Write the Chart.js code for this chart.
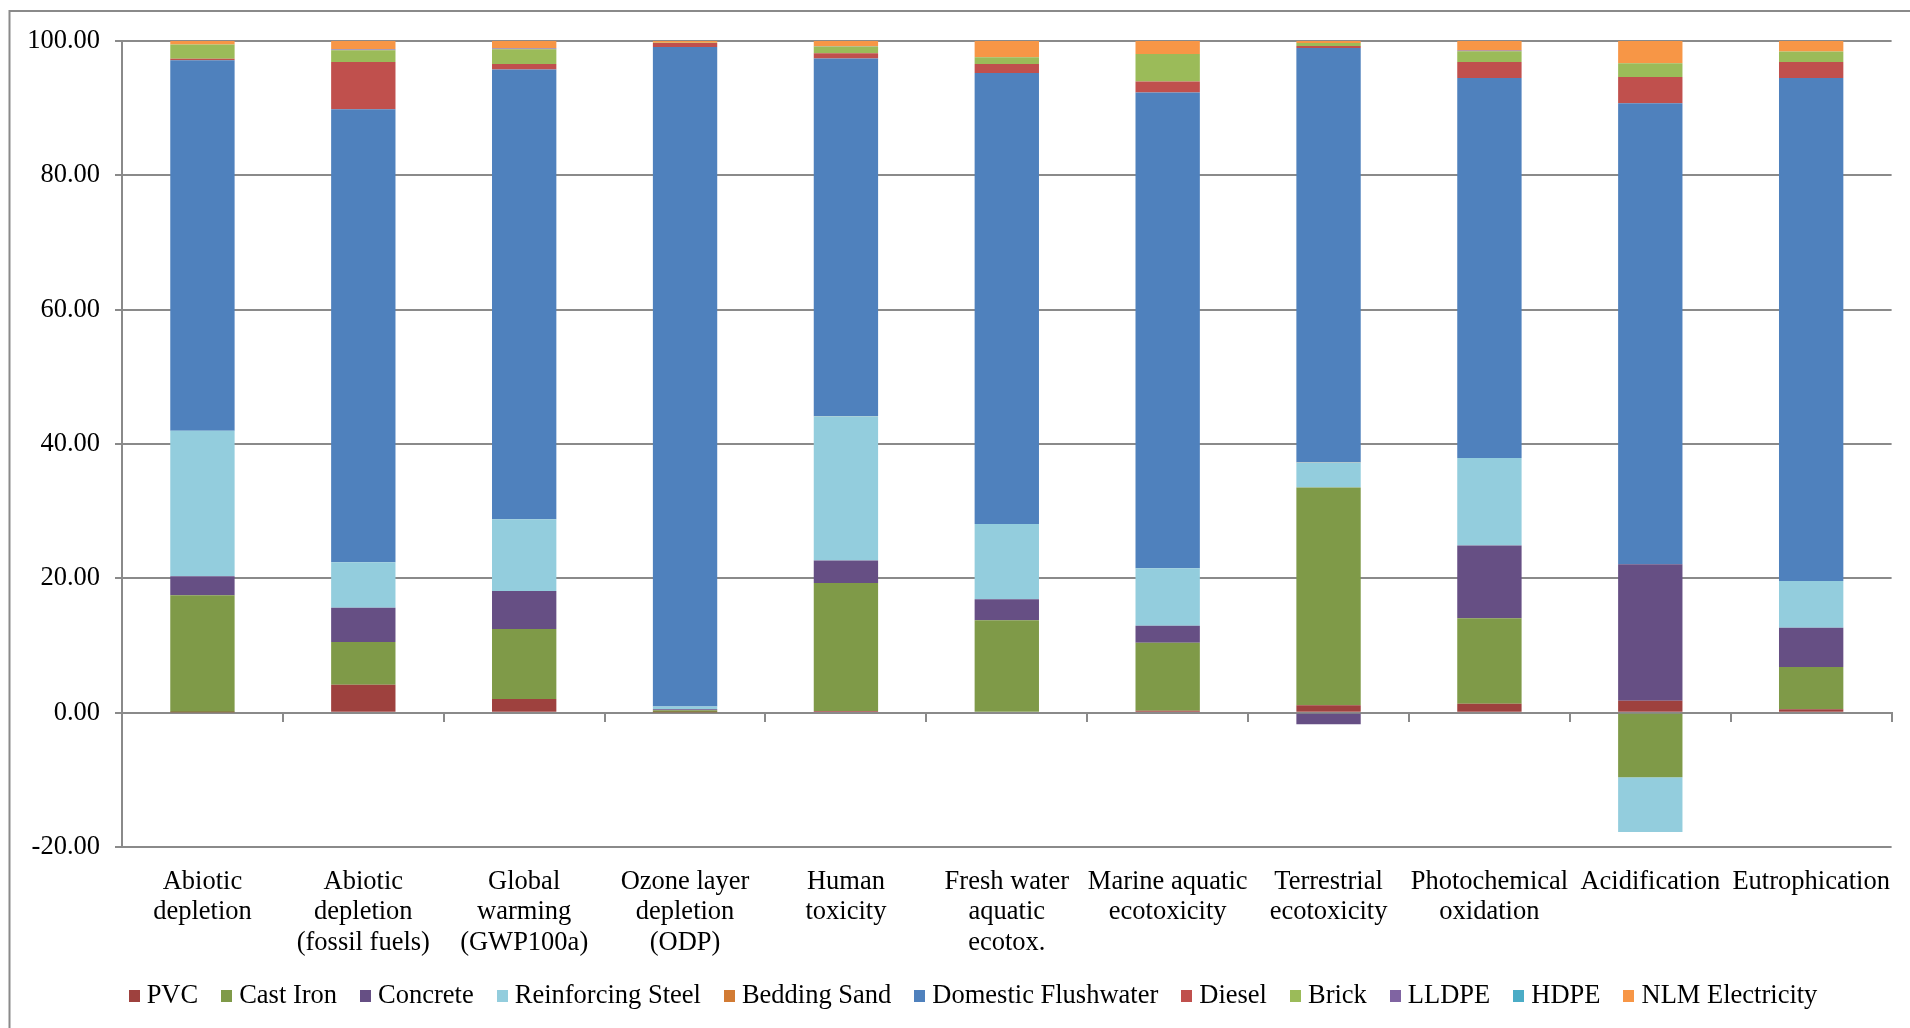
<!DOCTYPE html>
<html>
<head>
<meta charset="utf-8">
<script src="https://cdn.jsdelivr.net/npm/chart.js@4.4.1/dist/chart.umd.min.js"></script>
<style>
  html, body { margin: 0; padding: 0; background: #ffffff; overflow: hidden; }
  #wrap { width: 1910px; height: 1028px; position: relative; }
</style>
</head>
<body>
<div id="wrap"><canvas id="c" width="1910" height="1028"></canvas></div>
<script>
// Impact categories (multi-line axis labels)
const categories = [
  ['Abiotic', 'depletion'],
  ['Abiotic', 'depletion', '(fossil fuels)'],
  ['Global', 'warming', '(GWP100a)'],
  ['Ozone layer', 'depletion', '(ODP)'],
  ['Human', 'toxicity'],
  ['Fresh water', 'aquatic', 'ecotox.'],
  ['Marine aquatic', 'ecotoxicity'],
  ['Terrestrial', 'ecotoxicity'],
  ['Photochemical', 'oxidation'],
  ['Acidification'],
  ['Eutrophication']
];

// Contribution of each component to every impact category (%)
const pvc                = [0.05, 4.17, 2.04, 0.05, 0.25, 0.15, 0.30, 1.10, 1.34, 1.79, 0.50];
const castIron           = [17.45, 6.35, 10.42, 0.30, 19.05, 13.60, 10.12, 32.44, 12.71, -9.60, 6.30];
const concrete           = [2.80, 5.11, 5.65, 0.15, 3.37, 3.12, 2.53, -1.73, 10.85, 20.29, 5.85];
const reinforcingSteel   = [21.66, 6.75, 10.67, 0.40, 21.48, 11.21, 8.54, 3.72, 13.00, -8.15, 6.95];
const beddingSand        = [0.02, 0.02, 0.02, 0.00, 0.02, 0.02, 0.01, 0.02, 0.02, 0.02, 0.02];
const domesticFlushwater = [55.17, 67.44, 66.94, 98.20, 53.21, 67.14, 70.82, 61.68, 56.58, 68.63, 74.88];
const diesel             = [0.20, 7.04, 0.84, 0.60, 0.80, 1.34, 1.64, 0.30, 2.38, 3.91, 2.38];
const brick              = [2.14, 1.75, 2.20, 0.05, 1.00, 0.99, 4.11, 0.44, 1.60, 2.04, 1.54];
const lldpe              = [0.00, 0.10, 0.12, 0.00, 0.02, 0.02, 0.00, 0.00, 0.10, 0.00, 0.00];
const hdpe               = [0.00, 0.05, 0.02, 0.00, 0.00, 0.00, 0.00, 0.00, 0.02, 0.00, 0.00];
const nlmElectricity     = [0.53, 1.22, 1.08, 0.25, 0.80, 2.41, 1.93, 0.30, 1.40, 3.32, 1.58];

// Value axis range
const yMin = -20;
const yMax = 100;
const yStep = 20;

const FONT = '"Liberation Serif", "Times New Roman", serif';
const GRID = '#8a8a8a';
const TEXT_SIZE = 26.5;

const series = [
  ['PVC', pvc, '#9E413E'],
  ['Cast Iron', castIron, '#7F9A48'],
  ['Concrete', concrete, '#664F84'],
  ['Reinforcing Steel', reinforcingSteel, '#93CDDD'],
  ['Bedding Sand', beddingSand, '#D27B34'],
  ['Domestic Flushwater', domesticFlushwater, '#4F81BD'],
  ['Diesel', diesel, '#C0504D'],
  ['Brick', brick, '#9BBB59'],
  ['LLDPE', lldpe, '#8064A2'],
  ['HDPE', hdpe, '#4BACC6'],
  ['NLM Electricity', nlmElectricity, '#F79646']
];

// Thin frame around the whole chart
const chartFrame = {
  id: 'chartFrame',
  beforeDraw(chart) {
    const ctx = chart.ctx;
    ctx.save();
    ctx.strokeStyle = GRID;
    ctx.lineWidth = 2;
    ctx.strokeRect(9.5, 11, 1960, 1100);
    ctx.restore();
  }
};

// Single-row legend below the axis labels
const bottomLegend = {
  id: 'bottomLegend',
  afterDraw(chart) {
    const ctx = chart.ctx;
    ctx.save();
    ctx.font = TEXT_SIZE + 'px ' + FONT;
    ctx.textBaseline = 'middle';
    ctx.textAlign = 'left';
    const box = 11, gap = 7, sep = 23;
    const items = chart.data.datasets.map(d => ({
      text: d.label, color: d.backgroundColor, w: ctx.measureText(d.label).width
    }));
    const total = items.reduce((s, it) => s + box + gap + it.w, 0) + sep * (items.length - 1);
    let x = 973 - total / 2;
    const y = 996;
    items.forEach(it => {
      ctx.fillStyle = it.color;
      ctx.fillRect(Math.round(x), y - 6, box, 12);
      ctx.fillStyle = '#000000';
      ctx.fillText(it.text, x + box + gap, y);
      x += box + gap + it.w + sep;
    });
    ctx.restore();
  }
};

const tickFont = { family: FONT, size: TEXT_SIZE, lineHeight: 1.15 };

new Chart(document.getElementById('c'), {
  type: 'bar',
  data: {
    labels: categories,
    datasets: series.map(([label, data, color]) => ({
      label, data,
      backgroundColor: color,
      borderWidth: 0,
      barPercentage: 0.4,
      categoryPercentage: 1.0
    }))
  },
  options: {
    responsive: false,
    devicePixelRatio: 1,
    animation: false,
    layout: { padding: { left: 0, right: 13, top: 41, bottom: 0 } },
    plugins: {
      legend: { display: false },
      tooltip: { enabled: false }
    },
    scales: {
      x: {
        stacked: true,
        offset: true,
        grid: { display: false, drawTicks: false },
        border: { display: false },
        ticks: {
          font: tickFont, color: '#000000', padding: 19.5,
          maxRotation: 0, minRotation: 0, autoSkip: false
        },
        afterFit(s) { s.height = 181; }
      },
      xt: {
        type: 'category',
        axis: 'x',
        position: { y: 0 },
        offset: true,
        grid: { offset: true, drawOnChartArea: false, drawTicks: true, tickLength: 8, color: GRID, lineWidth: 2 },
        border: { display: true, color: GRID, width: 2 },
        ticks: { display: false }
      },
      y: {
        stacked: true,
        min: yMin,
        max: yMax,
        ticks: {
          stepSize: yStep,
          callback: v => v.toFixed(2),
          font: tickFont, color: '#000000', padding: 15
        },
        grid: { color: GRID, lineWidth: 2, tickLength: 7 },
        border: { color: GRID, width: 2 },
        afterFit(s) { s.width = 122; }
      }
    }
  },
  plugins: [chartFrame, bottomLegend]
});
</script>
</body>
</html>
